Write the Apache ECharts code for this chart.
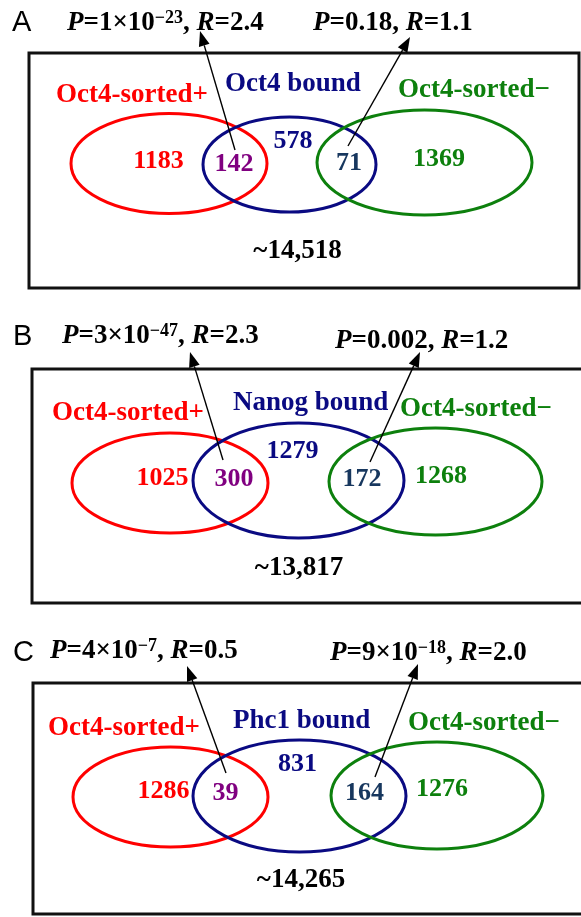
<!DOCTYPE html>
<html><head><meta charset="utf-8">
<script src="https://cdn.jsdelivr.net/npm/echarts@6/dist/echarts.min.js"></script>
<style>html,body{margin:0;padding:0;background:#fff}#c{width:581px;height:917px}</style>
</head><body><div id="c"></div>
<script>
// ---- data ----
const panelLetters = ['A', 'B', 'C'];
const boundNames = ['Oct4 bound', 'Nanog bound', 'Phc1 bound'];
const plusName = 'Oct4-sorted+';
const minusName = 'Oct4-sorted\u2212';
const plusOnly = [1183, 1025, 1286];
const plusBoundOverlap = [142, 300, 39];
const boundOnly = [578, 1279, 831];
const boundMinusOverlap = [71, 172, 164];
const minusOnly = [1369, 1268, 1276];
const backgroundCounts = ['~14,518', '~13,817', '~14,265'];
const leftP = ['1×10^\u221223', '3×10^\u221247', '4×10^\u22127'];
const leftR = ['2.4', '2.3', '0.5'];
const rightP = ['0.18', '0.002', '9×10^\u221218'];
const rightR = ['1.1', '1.2', '2.0'];

// ---- layout (chart units = pixels of a hidden 581x917 cartesian) ----
const layout = [
  {letter:[12,33], pL:[67,32], pR:[313,32], box:[29,53,579,288],
   red:[169,163.5,98,50], blue:[289.5,164.5,86.5,47.5], green:[424.5,162.5,107.5,52.5],
   lPlus:[56,104], lBound:[225,93], lMinus:[398,99],
   nPlus:[158.5,170], nPB:[234,173], nB:[293,150], nBM:[349,172], nMinus:[439,168], nBg:[297.5,260],
   arrL:[235,150,200,31], arrR:[348,146,410,37]},
  {letter:[13,347], pL:[62,345], pR:[335,350], box:[32,369,584,603],
   red:[170,483,98,50], blue:[298.5,480.5,105.5,57.5], green:[435.5,481.5,106.5,53.5],
   lPlus:[52,422], lBound:[233,412], lMinus:[400,418],
   nPlus:[162.5,487], nPB:[234,488], nB:[292.5,460], nBM:[362,488], nMinus:[441,485], nBg:[299,577],
   arrL:[223,460,190,352], arrR:[370,462,420,352]},
  {letter:[13,663], pL:[50,660], pR:[330,662], box:[33,683,584,914],
   red:[170.5,797,97.5,50], blue:[299.5,796,106.5,56], green:[437,795.5,106,53.5],
   lPlus:[48,737], lBound:[233,730], lMinus:[408,732],
   nPlus:[163.5,800], nPB:[225.5,802], nB:[297.5,773], nBM:[364.5,802], nMinus:[442,798], nBg:[301,889],
   arrL:[226,773,187,666], arrR:[375,777,418,664]}
];

const RED = '#ff0000', BLUE = '#0a0a82', GREEN = '#0d800d', PURPLE = '#800080', TEAL = '#17375e';
const SERIF = '"Liberation Serif","Times New Roman",serif';
const SANS = '"Liberation Sans",Arial,sans-serif';
const FS_NUM = 26, FS_LABEL = 27, FS_P = 27;

function pRich(p, r) {
  const parts = p.split('^');
  let s = '{i|P}{b|=' + parts[0] + '}';
  if (parts[1]) s += '{s|' + parts[1] + '}';
  s += '{b|, }{i|R}{b|=' + r + '}';
  return s;
}

// build element list
const elements = [];
layout.forEach((L, k) => {
  elements.push({kind:'rect', x:L.box[0], y:L.box[1], x2:L.box[2], y2:L.box[3]});
  elements.push({kind:'ellipse', x:L.red[0], y:L.red[1], rx:L.red[2], ry:L.red[3], color:RED});
  elements.push({kind:'ellipse', x:L.blue[0], y:L.blue[1], rx:L.blue[2], ry:L.blue[3], color:BLUE});
  elements.push({kind:'ellipse', x:L.green[0], y:L.green[1], rx:L.green[2], ry:L.green[3], color:GREEN});
  elements.push({kind:'text', x:L.letter[0], y:L.letter[1], text:panelLetters[k], color:'#000', font:SANS, weight:'normal', size:29, align:'left'});
  elements.push({kind:'rich', x:L.pL[0], y:L.pL[1], text:pRich(leftP[k], leftR[k])});
  elements.push({kind:'rich', x:L.pR[0], y:L.pR[1], text:pRich(rightP[k], rightR[k])});
  elements.push({kind:'text', x:L.lPlus[0], y:L.lPlus[1], text:plusName, color:RED, align:'left', size:FS_LABEL});
  elements.push({kind:'text', x:L.lBound[0], y:L.lBound[1], text:boundNames[k], color:BLUE, align:'left', size:FS_LABEL});
  elements.push({kind:'text', x:L.lMinus[0], y:L.lMinus[1], text:minusName, color:GREEN, align:'left', size:FS_LABEL});
  elements.push({kind:'text', x:L.nPlus[0], y:L.nPlus[1], text:String(plusOnly[k]), color:RED, align:'center'});
  elements.push({kind:'text', x:L.nPB[0], y:L.nPB[1], text:String(plusBoundOverlap[k]), color:PURPLE, align:'center'});
  elements.push({kind:'text', x:L.nB[0], y:L.nB[1], text:String(boundOnly[k]), color:BLUE, align:'center'});
  elements.push({kind:'text', x:L.nBM[0], y:L.nBM[1], text:String(boundMinusOverlap[k]), color:TEAL, align:'center'});
  elements.push({kind:'text', x:L.nMinus[0], y:L.nMinus[1], text:String(minusOnly[k]), color:GREEN, align:'center'});
  elements.push({kind:'text', x:L.nBg[0], y:L.nBg[1], text:backgroundCounts[k], color:'#000', align:'center', size:FS_LABEL});
  elements.push({kind:'arrow', x:L.arrL[0], y:L.arrL[1], x2:L.arrL[2], y2:L.arrL[3]});
  elements.push({kind:'arrow', x:L.arrR[0], y:L.arrR[1], x2:L.arrR[2], y2:L.arrR[3]});
});

function renderItem(params, api) {
  const e = elements[params.dataIndex];
  const p = api.coord([e.x, e.y]);
  if (e.kind === 'rect') {
    const q = api.coord([e.x2, e.y2]);
    return {type:'rect', shape:{x:p[0], y:p[1], width:q[0]-p[0], height:q[1]-p[1]},
      style:{fill:'none', stroke:'#111', lineWidth:3}};
  }
  if (e.kind === 'ellipse') {
    const s = api.size([e.rx, e.ry]);
    return {type:'ellipse', shape:{cx:p[0], cy:p[1], rx:s[0], ry:s[1]},
      style:{fill:'none', stroke:e.color, lineWidth:3}};
  }
  if (e.kind === 'text') {
    const size = e.size || FS_NUM;
    const off = (e.font === SANS ? 0.3465 : 0.3375) * size;
    return {type:'text', x:p[0], y:p[1] - off,
      style:{text:e.text, fill:e.color, fontFamily:e.font || SERIF, fontWeight:e.weight || 'bold',
        fontSize:size, align:e.align, verticalAlign:'middle'}};
  }
  if (e.kind === 'rich') {
    return {type:'text', x:p[0], y:p[1] - 0.3375 * FS_P,
      style:{text:e.text, align:'left', verticalAlign:'middle', fill:'#000',
        fontFamily:SERIF, fontWeight:'bold', fontSize:FS_P,
        rich:{
          b:{fontFamily:SERIF, fontWeight:'bold', fontSize:FS_P, fill:'#000', lineHeight:FS_P},
          i:{fontFamily:SERIF, fontWeight:'bold', fontStyle:'italic', fontSize:FS_P, fill:'#000', lineHeight:FS_P},
          s:{fontFamily:SERIF, fontWeight:'bold', fontSize:18, fill:'#000', lineHeight:18, verticalAlign:'top'}
        }}};
  }
  if (e.kind === 'arrow') {
    const q = api.coord([e.x2, e.y2]);
    const dx = q[0]-p[0], dy = q[1]-p[1], len = Math.hypot(dx, dy);
    const ux = dx/len, uy = dy/len, hl = 15, hw = 5.5;
    const bx = q[0]-ux*hl, by = q[1]-uy*hl;
    return {type:'group', children:[
      {type:'line', shape:{x1:p[0], y1:p[1], x2:bx, y2:by}, style:{stroke:'#000', lineWidth:1.4}},
      {type:'polygon', shape:{points:[[q[0],q[1]],[bx-uy*hw, by+ux*hw],[bx+uy*hw, by-ux*hw]]}, style:{fill:'#000'}}
    ]};
  }
}

const chart = echarts.init(document.getElementById('c'), null, {renderer:'canvas'});
chart.setOption({
  animation:false,
  grid:{left:0, right:0, top:0, bottom:0},
  xAxis:{type:'value', min:0, max:581, show:false},
  yAxis:{type:'value', min:0, max:917, inverse:true, show:false},
  series:[{type:'custom', clip:false, renderItem:renderItem,
    data:elements.map(e => [e.x, e.y])}]
});
</script></body></html>
